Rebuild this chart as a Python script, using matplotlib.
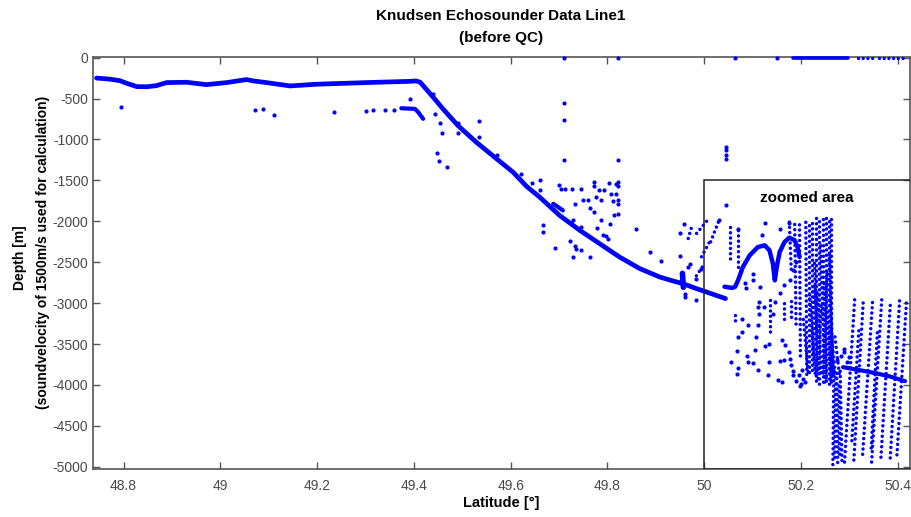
import matplotlib.pyplot as plt
import matplotlib.patches as patches

plt.rcParams['font.family'] = ['Liberation Sans', 'DejaVu Sans']

# Sondierung Hauptspur (Latitude, Tiefe in m)
track_lat = [48.744, 48.770, 48.792, 48.806, 48.827, 48.848, 48.868, 48.889, 48.930,
             48.971, 49.013, 49.054, 49.068, 49.095, 49.144, 49.199, 49.302, 49.390,
             49.405, 49.413, 49.440, 49.460, 49.491, 49.529, 49.571, 49.605, 49.633,
             49.660, 49.701, 49.743, 49.784, 49.825, 49.867, 49.908, 49.936, 49.956,
             49.984, 50.005, 50.044]
track_depth = [-250, -262, -281, -313, -354, -356, -342, -305, -301,
               -330, -305, -268, -285, -305, -346, -325, -305, -290,
               -285, -301, -484, -626, -830, -1034, -1237, -1400, -1574,
               -1705, -1928, -2111, -2274, -2437, -2579, -2681, -2730, -2762,
               -2823, -2865, -2945]

# Zweite Spur (Mehrfachecho) bei ca. -630 m
echo_lat = [49.374, 49.402, 49.409, 49.419]
echo_depth = [-619, -626, -667, -748]

# kurzes Stueck bei 49.7
seg_lat = [49.688, 49.708]
seg_depth = [-1786, -1867]

# senkrechter Block bei 49.95
blob_lat = [49.955, 49.957]
blob_depth = [-2636, -2807]

# Boegen im gezoomten Bereich
arch_lat = [50.042, 50.058, 50.064, 50.070, 50.080, 50.094, 50.111, 50.125, 50.135,
            50.142, 50.146, 50.150, 50.156, 50.166, 50.176, 50.187, 50.193, 50.197]
arch_depth = [-2800, -2815, -2800, -2722, -2559, -2417, -2315, -2294, -2356,
              -2518, -2722, -2559, -2376, -2254, -2200, -2233, -2315, -2437]

# tiefe Spur rechts
deep_lat = [50.287, 50.340, 50.380, 50.415]
deep_depth = [-3783, -3840, -3890, -3954]

# Fehlwerte bei 0 m
zero_lat = [49.710, 49.822, 50.063, 50.151]
zero_run_lat = [50.183, 50.297]
zero_dot_runs = [(50.318, 50.354), (50.362, 50.411)]

# einzelne Ausreisser
stray_lat = [48.794, 49.072, 49.088, 49.111, 49.235, 49.302, 49.316, 49.341, 49.359,
             49.392, 49.440, 49.443, 49.453, 49.458, 49.448, 49.452, 49.469, 49.491,
             49.534, 49.534, 49.491, 49.571, 49.622, 49.660, 49.645, 49.660, 49.710,
             49.710, 49.710, 49.822, 50.045, 50.045, 50.045, 50.045,
             49.699, 49.705, 49.712, 49.726, 49.746, 49.772, 49.772, 49.783, 49.793,
             49.803, 49.817, 49.822, 49.822, 49.808, 49.817, 49.750, 49.760, 49.777,
             49.786, 49.811, 49.822, 49.822, 49.733, 49.763, 49.772, 49.813, 49.822,
             49.787, 49.728, 49.666, 49.666, 49.746, 49.779, 49.806, 49.859, 49.790,
             49.798, 49.802, 49.723, 49.733, 49.736, 49.746, 49.692, 49.728, 49.764,
             49.889, 49.911, 49.949, 49.958, 49.949, 49.967, 49.970, 49.994, 49.984,
             49.960, 49.960, 49.984,
             50.046, 50.030, 50.069, 50.125, 50.157, 50.175, 50.120,
             50.079, 50.078, 50.069, 50.067, 50.056, 50.069, 50.067, 50.090, 50.088,
             50.090, 50.101, 50.111, 50.111, 50.113, 50.106, 50.107, 50.113, 50.123,
             50.135, 50.126, 50.133, 50.131, 50.157, 50.164, 50.152, 50.161, 50.161,
             50.168, 50.175, 50.178, 50.180, 50.183, 50.183, 50.190,
             50.116, 50.087, 50.084, 50.111, 50.142, 50.146, 50.157, 50.178, 50.166,
             50.184, 50.190, 50.100, 50.100,
             50.200, 50.205, 50.196, 50.203, 50.208, 50.199, 50.275, 50.282, 50.290,
             50.296, 50.288, 50.300]
stray_depth = [-598, -638, -631, -700, -659, -647, -638, -635, -635,
               -500, -443, -687, -797, -924, -1168, -1269, -1339, -801,
               -769, -972, -924, -1196, -1420, -1501, -1534, -1615, -558,
               -761, -1249, -1249, -1095, -1127, -1196, -1237,
               -1562, -1603, -1611, -1603, -1611, -1522, -1574, -1623, -1623,
               -1534, -1542, -1522, -1574, -1664, -1664, -1745, -1736, -1705,
               -1745, -1753, -1745, -1785, -1794, -1834, -1887, -1928, -1907,
               -1989, -1981, -2050, -2131, -2071, -2078, -2029, -2091, -2172,
               -2184, -2212, -2241, -2306, -2335, -2347, -2327, -2437, -2437,
               -2375, -2485, -2428, -2038, -2143, -2558, -2526, -2578, -2700,
               -2925, -2892, -2965,
               -1806, -1989, -2090, -2022, -2090, -2022, -2172,
               -3196, -3359, -3412, -3587, -3717, -3798, -3868, -3270, -3645,
               -3718, -3737, -3819, -3270, -2986, -3575, -3420, -3128, -3047,
               -3494, -3526, -3718, -3880, -3710, -3697, -3941, -3962, -3457,
               -3518, -3600, -3680, -3755, -3827, -3876, -3950,
               -2801, -2821, -2760, -3047, -3128, -2986, -2881, -2720, -2782,
               -2598, -2496, -2640, -2720,
               -3990, -3930, -3880, -3820, -3960, -4010, -3700, -3650, -3600,
               -3720, -3560, -3660]

# Punktreihen (Mehrfachechos): lat oben, Tiefe oben, lat unten, Tiefe unten
col_lat0 = [50.053, 50.069, 50.063, 50.137, 50.164, 50.180,
            50.176, 50.187, 50.197, 50.210, 50.216, 50.222,
            50.232, 50.238, 50.245, 50.251, 50.257, 50.263,
            50.268, 50.274, 50.281,
            50.311, 50.329, 50.348, 50.367, 50.385, 50.404, 50.418, 50.320, 50.358,
            50.005, 50.013, 50.030, 49.996, 49.975,
            50.228, 50.241, 50.254, 50.259, 50.218, 50.262, 50.270, 50.205,
            50.272, 50.279,
            50.226, 50.235, 50.248, 50.260, 50.242, 50.254]
col_d0 = [-2070, -2070, -3128, -2965, -2965, -2965,
          -2010, -2000, -2030, -2013, -2013, -2013,
          -1964, -1964, -1964, -1964, -1964, -1964,
          -3820, -3820, -3820,
          -2960, -2960, -2980, -2960, -2990, -2960, -3000, -3300, -3350,
          -2000, -2230, -2000, -2560, -2050,
          -2500, -2300, -2600, -2400, -2900, -3300, -3400, -3200,
          -3950, -4000,
          -2800, -2850, -2750, -2900, -3000, -3100]
col_lat1 = [50.053, 50.069, 50.063, 50.137, 50.164, 50.180,
            50.180, 50.190, 50.199, 50.212, 50.216, 50.222,
            50.232, 50.238, 50.245, 50.251, 50.257, 50.263,
            50.266, 50.276, 50.285,
            50.290, 50.309, 50.327, 50.346, 50.365, 50.384, 50.398, 50.305, 50.345,
            49.984, 49.994, 50.010, 49.980, 49.965,
            50.236, 50.249, 50.246, 50.267, 50.230, 50.272, 50.280, 50.215,
            50.270, 50.280,
            50.232, 50.242, 50.252, 50.266, 50.236, 50.262]
col_d1 = [-2476, -2598, -3270, -3368, -3209, -3209,
          -2600, -3300, -3700, -3880, -3880, -3880,
          -4000, -4000, -4000, -4000, -4000, -4000,
          -4980, -4980, -4980,
          -4950, -4950, -4900, -4950, -4920, -4950, -4900, -4700, -4800,
          -2150, -2440, -2300, -2700, -2250,
          -3950, -3980, -3900, -3950, -3900, -3950, -3900, -3850,
          -4900, -4850,
          -3950, -3900, -3950, -3900, -3850, -3950]

xtick_vals = [48.8, 49.0, 49.2, 49.4, 49.6, 49.8, 50.0, 50.2, 50.4]
xtick_labels = ['48.8', '49', '49.2', '49.4', '49.6', '49.8', '50', '50.2', '50.4']
ytick_vals = [0, -500, -1000, -1500, -2000, -2500, -3000, -3500, -4000, -4500, -5000]
ytick_labels = ['0', '-500', '-1000', '-1500', '-2000', '-2500', '-3000', '-3500',
                '-4000', '-4500', '-5000']

blau = '#0000ff'
grau = '#555555'

fig = plt.figure(figsize=(9.12, 5.17), dpi=100)
ax = fig.add_axes([0.1016, 0.0928, 0.8962, 0.797])

# Spuren
ax.plot(track_lat, track_depth, color=blau, lw=3.4, solid_capstyle='round', solid_joinstyle='round')
ax.plot(echo_lat, echo_depth, color=blau, lw=3.0, solid_capstyle='round')
ax.plot(seg_lat, seg_depth, color=blau, lw=3.0, solid_capstyle='round')
ax.plot(blob_lat, blob_depth, color=blau, lw=4, solid_capstyle='round')
ax.plot(arch_lat, arch_depth, color=blau, lw=3.2, solid_capstyle='round', solid_joinstyle='round')
ax.plot(deep_lat, deep_depth, color=blau, lw=3.0, solid_capstyle='round')

# Punktreihen
for i in range(len(col_lat0)):
    ax.plot([col_lat0[i], col_lat1[i]], [col_d0[i], col_d1[i]], color=blau, lw=2.5,
            linestyle=(i % 3 * 0.6, (0.01, 1.5)), dash_capstyle='round')

# Ausreisser
ax.plot(stray_lat, stray_depth, 'o', color=blau, ms=3, mew=0)

# Werte bei 0 m
ax.plot(zero_lat, [0] * len(zero_lat), 'o', color=blau, ms=3, mew=0, clip_on=False, zorder=5)
ax.plot(zero_run_lat, [0, 0], color=blau, lw=2.6, solid_capstyle='round', clip_on=False, zorder=5)
for a, b in zero_dot_runs:
    ax.plot([a, b], [0, 0], color=blau, lw=2.4, linestyle=(0, (0.01, 1.4)),
            dash_capstyle='round', clip_on=False, zorder=5)

# Rahmen fuer den gezoomten Bereich
ax.add_patch(patches.Rectangle((50.0, -5028), 0.43, 3528, fill=False,
                               edgecolor='#222222', lw=1.1, zorder=6))
ax.text(50.212, -1711, 'zoomed area', ha='center', va='center', fontsize=11,
        fontweight='bold', zorder=7)

ax.set_xlim(48.736, 50.4254)
ax.set_ylim(-5028, 8)
ax.set_xticks(xtick_vals)
ax.set_xticklabels(xtick_labels)
ax.set_yticks(ytick_vals)
ax.set_yticklabels(ytick_labels)
ax.tick_params(direction='in', length=5, width=1, colors=grau, labelsize=10,
               top=True, right=True, labelcolor='#4a4a4a')
ax.tick_params(axis='x', pad=7)
ax.tick_params(axis='y', pad=3)
for s in ax.spines.values():
    s.set_color(grau)
    s.set_linewidth(1.2)

fig.text(0.549, 1 - 15.7 / 517, 'Knudsen Echosounder Data Line1', ha='center', va='center',
         fontsize=11, fontweight='bold')
fig.text(0.549, 1 - 38 / 517, '(before QC)', ha='center', va='center',
         fontsize=11, fontweight='bold')
fig.text(501 / 912, 1 - 503 / 517, 'Latitude [°]', ha='center', va='center',
         fontsize=10.5, fontweight='bold')
fig.text(20 / 912, 1 - 258 / 517, 'Depth [m]', ha='center', va='center', rotation=90,
         fontsize=10, fontweight='bold')
fig.text(43 / 912, 1 - 252 / 517, '(soundvelocity of 1500m/s used for calculation)',
         ha='center', va='center', rotation=90, fontsize=10, fontweight='bold')

plt.savefig('out.png', dpi=100)
